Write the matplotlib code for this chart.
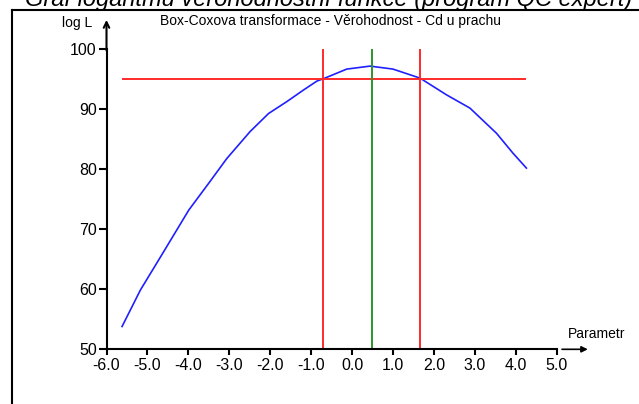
import matplotlib
matplotlib.use("Agg")
import matplotlib.pyplot as plt
from matplotlib.lines import Line2D

# log-likelihood curve
param = [-5.62, -5.17, -4.68, -3.99, -3.50, -3.06, -2.49, -2.04, -1.59, -1.19,
         -0.86, -0.70, -0.13, 0.44, 1.00, 1.66, 2.31, 2.88, 3.53, 3.93, 4.26]
logl = [53.8, 59.9, 65.4, 73.2, 77.7, 81.8, 86.3, 89.3, 91.3, 93.2,
        94.7, 95.1, 96.7, 97.2, 96.7, 95.2, 92.4, 90.2, 86.0, 82.7, 80.2]

level = 95.05          # confidence level (horizontal red)
ci_low, ci_high = -0.715, 1.66
optimum = 0.48

xticks = [-6, -5, -4, -3, -2, -1, 0, 1, 2, 3, 4, 5]
yticks = [50, 60, 70, 80, 90, 100]

W, H = 639, 404
fig = plt.figure(figsize=(W / 100, H / 100), dpi=100)
plt.rcParams["font.family"] = ["Liberation Sans", "DejaVu Sans"]


def px(x, y):
    return x / W, 1 - y / H


# axes placed to match the pixel layout
l, t = px(106.5, 49.3)
r, b = px(556.7, 349.3)
ax = fig.add_axes([l, b, r - l, t - b])

ax.plot(param, logl, color="#2020ff", lw=1.2)
ax.hlines(level, param[0], param[-1], color="#ff2a2a", lw=1.4)
ax.vlines([ci_low, ci_high], 50, 100, color="#ff2a2a", lw=1.4)
ax.vlines(optimum, 50, 100, color="#2a962a", lw=1.4)

ax.set_xlim(-6, 5)
ax.set_ylim(50, 100)
ax.set_xticks(xticks)
ax.set_xticklabels([f"{v:.1f}" for v in xticks])
ax.set_yticks(yticks)
ax.set_yticklabels([str(v) for v in yticks])

for s in ["top", "right"]:
    ax.spines[s].set_visible(False)
for s in ["left", "bottom"]:
    ax.spines[s].set_linewidth(1.5)
ax.tick_params(axis="x", length=4, width=1.5, pad=2, labelsize=11.5)
ax.tick_params(axis="y", length=5.5, width=1.5, pad=1.5, labelsize=11.5)

# axis arrows
ax.annotate("", xy=(-6, 104.9), xytext=(-6, 99.8), annotation_clip=False,
            arrowprops=dict(arrowstyle="->", lw=1.5, color="black",
                            shrinkA=0, shrinkB=0, mutation_scale=10))
ax.annotate("", xy=(5.76, 50), xytext=(5.13, 50), annotation_clip=False,
            arrowprops=dict(arrowstyle="-|>", lw=1.2, color="black",
                            shrinkA=0, shrinkB=0, mutation_scale=9))

fig.text(*px(77, 23), "log L", fontsize=10, ha="center", va="center")
fig.text(*px(597, 333.5), "Parametr", fontsize=10, ha="center", va="center")
fig.text(*px(331, 21), "Box-Coxova transformace - Věrohodnost - Cd u prachu",
         fontsize=10, ha="center", va="center")

# page text cut at the top and the frame around the picture
fig.text(*px(25, 6), "Graf logaritmu věrohodnostní funkce (program QC expert)",
         fontsize=17, style="italic", ha="left", va="baseline")
fig.add_artist(Line2D([12 / W, 12 / W], [1 - 10 / H, 0], transform=fig.transFigure,
                      color="black", lw=1.5))
fig.add_artist(Line2D([12 / W, 1], [1 - 10 / H, 1 - 10 / H], transform=fig.transFigure,
                      color="black", lw=1.5))

fig.savefig("out.png", dpi=100)
